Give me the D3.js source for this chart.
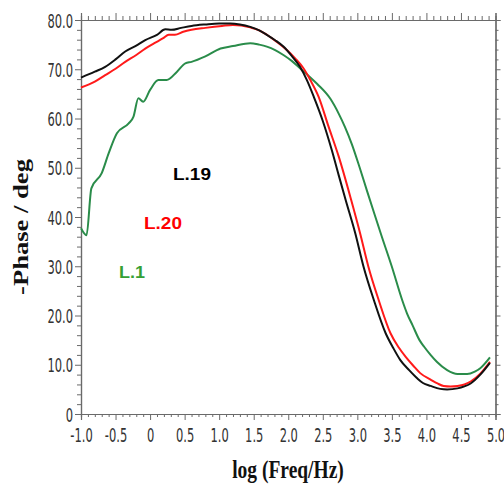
<!DOCTYPE html>
<html>
<head>
<meta charset="utf-8">
<script src="https://cdn.jsdelivr.net/npm/d3@7"></script>
<style>
  html, body { margin: 0; padding: 0; background: #fff; }
  svg { display: block; }
</style>
</head>
<body>
<svg id="chart" width="504" height="492"></svg>
<script>
// ---- data ----
const l19LogF = [-1.0,-0.8,-0.65,-0.5,-0.36,-0.2,-0.07,0.1,0.22,0.31,0.45,0.6,0.8,1.0,1.16,1.3,1.45,1.58,1.69,1.81,1.93,2.05,2.17,2.27,2.37,2.5,2.63,2.73,2.83,2.97,3.09,3.24,3.41,3.52,3.62,3.75,3.87,3.95,4.06,4.2,4.3,4.45,4.55,4.64,4.78,4.92];
const l19Phase = [68.3,69.5,70.5,72.0,73.6,74.8,75.9,77.0,78.1,78.0,78.4,78.8,79.1,79.3,79.3,79.1,78.6,77.9,77.0,75.9,74.6,72.7,70.5,67.8,64.4,59.5,53.6,48.5,43.5,36.7,29.9,23.1,16.4,13.4,11.0,8.9,7.2,6.3,5.7,5.1,5.0,5.2,5.6,6.2,8.0,10.4];

const l20LogF = [-1.0,-0.8,-0.65,-0.5,-0.36,-0.2,-0.07,0.05,0.19,0.27,0.36,0.48,0.6,0.8,1.04,1.2,1.32,1.45,1.58,1.69,1.83,1.98,2.1,2.22,2.32,2.44,2.58,2.73,2.91,3.04,3.16,3.31,3.48,3.6,3.7,3.81,3.91,4.06,4.16,4.25,4.35,4.45,4.55,4.64,4.78,4.92];
const l20Phase = [66.3,67.5,68.8,70.1,71.5,72.9,74.2,75.2,76.3,77.0,77.0,77.6,78.0,78.4,78.8,79.0,78.9,78.5,77.9,77.0,75.6,73.9,72.2,70.2,67.8,64.4,58.5,52.3,43.5,36.7,29.9,23.1,16.4,13.5,11.6,9.8,8.3,7.0,6.2,5.7,5.6,5.7,6.0,6.6,8.2,10.6];

const l1LogF = [-1.0,-0.92,-0.85,-0.7,-0.6,-0.48,-0.31,-0.24,-0.17,-0.1,0.0,0.12,0.24,0.39,0.51,0.6,0.8,1.02,1.2,1.45,1.58,1.69,1.81,1.93,2.05,2.2,2.3,2.42,2.61,2.73,2.82,2.92,3.03,3.14,3.25,3.35,3.5,3.65,3.72,3.8,3.9,3.97,4.06,4.15,4.3,4.45,4.59,4.7,4.78,4.92];
const l1Phase = [37.7,36.3,45.8,48.9,52.9,57.0,59.0,60.4,64.1,63.4,65.8,67.8,67.8,69.5,71.2,71.5,72.6,74.2,74.7,75.3,75.0,74.6,73.9,72.9,71.7,69.8,68.6,67.0,64.0,61.0,58.3,54.8,50.2,45.3,40.5,36.2,29.9,23.1,20.4,18.0,15.0,13.6,12.0,10.6,8.9,8.1,8.1,8.6,9.3,11.5];

const seriesNames = ["L.19", "L.20", "L.1"];
const xMajorTicks = [-1.0,-0.5,0,0.5,1.0,1.5,2.0,2.5,3.0,3.5,4.0,4.5,5.0];
const yMajorTicks = [0,10,20,30,40,50,60,70,80];
const xTitle = "log (Freq/Hz)";
const yTitle = "-Phase / deg";

// ---- layout ----
const svg = d3.select("#chart");
const X0 = 81, X1 = 495.5, Y0 = 414, Y1 = 20;
const x = d3.scaleLinear().domain([-1, 5]).range([X0, X1]);
const y = d3.scaleLinear().domain([0, 80]).range([Y0, Y1]);
const axisColor = "#6a6a6a";
const labelFont = "'Liberation Sans Narrow','Arial Narrow','DejaVu Sans Condensed',sans-serif";
const vStretch = 1.3;
const hSquash = 0.85;

const xMinor = d3.range(-10, 51).map(d => d / 10).filter(d => Math.abs(d * 2 - Math.round(d * 2)) > 1e-6);
const yMinor = d3.range(0, 81, 2).filter(d => d % 10 !== 0);

function styleAxis(g) {
  g.selectAll("path.domain").attr("stroke", axisColor).attr("stroke-width", 1.2);
  g.selectAll(".tick line").attr("stroke", axisColor).attr("stroke-width", 1);
}
const fmt = d => d === 0 ? "0" : d.toFixed(1);

// bottom axis
const gB = svg.append("g").attr("transform", `translate(0,${Y0})`);
gB.append("g").call(d3.axisBottom(x).tickValues(xMinor).tickSize(3).tickFormat("")).call(styleAxis);
gB.append("g").call(d3.axisBottom(x).tickValues(xMajorTicks).tickSize(6).tickFormat(fmt)).call(styleAxis)
  .selectAll("text")
  .attr("y", 28 / vStretch).attr("dy", 0)
  .attr("transform", `scale(${hSquash},${vStretch})`)
  .attr("font-family", labelFont).attr("font-size", 15).attr("fill", "#333");

// top axis
const gT = svg.append("g").attr("transform", `translate(0,${Y1})`);
gT.append("g").call(d3.axisTop(x).tickValues(xMinor).tickSize(4).tickFormat("")).call(styleAxis);
gT.append("g").call(d3.axisTop(x).tickValues(xMajorTicks).tickSize(7).tickFormat("")).call(styleAxis);

// left axis
const gL = svg.append("g").attr("transform", `translate(${X0},0)`);
gL.append("g").call(d3.axisLeft(y).tickValues(yMinor).tickSize(4).tickFormat("")).call(styleAxis);
gL.append("g").call(d3.axisLeft(y).tickValues(yMajorTicks).tickSize(6).tickFormat(fmt)).call(styleAxis)
  .selectAll("text")
  .attr("x", -8 / hSquash).attr("y", 7 / vStretch).attr("dy", 0)
  .attr("transform", `scale(${hSquash},${vStretch})`)
  .attr("font-family", labelFont).attr("font-size", 15).attr("fill", "#333");

// right axis
const gR = svg.append("g").attr("transform", `translate(${X1},0)`);
gR.append("g").call(d3.axisRight(y).tickValues(yMinor).tickSize(3).tickFormat("")).call(styleAxis);
gR.append("g").call(d3.axisRight(y).tickValues(yMajorTicks).tickSize(5).tickFormat("")).call(styleAxis);

// ---- lines ----
const line = d3.line().x(d => x(d[0])).y(d => y(d[1])).curve(d3.curveMonotoneX);
const series = [
  { name: seriesNames[0], xs: l19LogF, ys: l19Phase, color: "#111111" },
  { name: seriesNames[1], xs: l20LogF, ys: l20Phase, color: "#ff1a1a" },
  { name: seriesNames[2], xs: l1LogF,  ys: l1Phase,  color: "#2a8c4a" }
];
const plot = svg.append("g");
[series[2], series[1], series[0]].forEach(s => {
  plot.append("path")
    .datum(d3.zip(s.xs, s.ys))
    .attr("fill", "none")
    .attr("stroke", s.color)
    .attr("stroke-width", 2)
    .attr("stroke-linejoin", "round")
    .attr("d", line);
});

// ---- annotations ----
const notes = [
  { text: seriesNames[0], px: 173, py: 180, w: 38, color: "#000000" },
  { text: seriesNames[1], px: 144, py: 229, w: 38, color: "#ff0000" },
  { text: seriesNames[2], px: 119, py: 278, w: 26, color: "#35a035" }
];
notes.forEach(n => {
  svg.append("text")
    .attr("x", n.px).attr("y", n.py)
    .attr("font-family", "'Liberation Sans',Arial,sans-serif")
    .attr("font-weight", "bold")
    .attr("font-size", 17)
    .attr("textLength", n.w)
    .attr("lengthAdjust", "spacingAndGlyphs")
    .attr("fill", n.color)
    .text(n.text);
});

// ---- axis titles ----
svg.append("text")
  .attr("transform", `translate(288,478) scale(1,1.33)`)
  .attr("text-anchor", "middle")
  .attr("font-family", "'Liberation Serif','Times New Roman',serif")
  .attr("font-weight", "bold")
  .attr("font-size", 19.5)
  .attr("fill", "#111")
  .text(xTitle);

svg.append("text")
  .attr("transform", `translate(28,227) rotate(-90) scale(1.33,1)`)
  .attr("text-anchor", "middle")
  .attr("font-family", "'Liberation Serif','Times New Roman',serif")
  .attr("font-weight", "bold")
  .attr("font-size", 20)
  .attr("fill", "#111")
  .text(yTitle);
</script>
</body>
</html>
